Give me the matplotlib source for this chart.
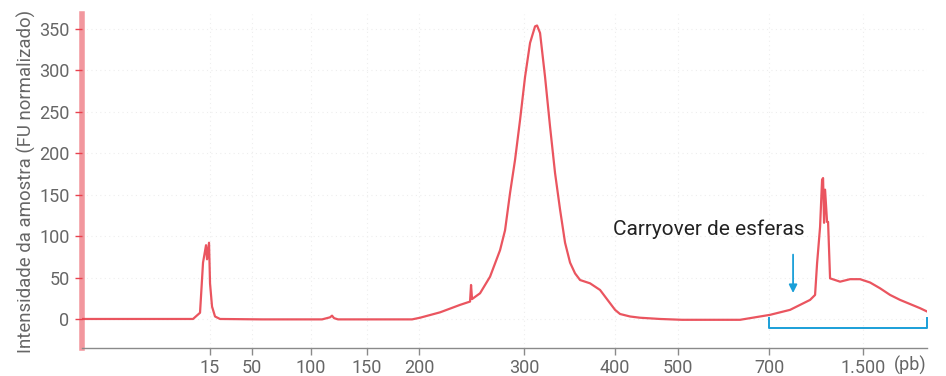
import matplotlib
matplotlib.use("Agg")
import matplotlib.pyplot as plt
import numpy as np

plt.rcParams['font.family'] = ['Roboto', 'DejaVu Sans']

# migration position (arbitrary units) and normalised intensity
pos = [0, 111, 118, 121, 124, 125, 127, 128, 130, 133, 138, 180, 240, 248, 250,
       252, 256, 300, 330, 338, 358, 378, 388, 389, 390, 398, 408, 418, 423, 428,
       433, 438, 443, 448, 453, 455, 458, 463, 468, 473, 478, 483, 488, 493, 498,
       508, 518, 523, 528, 533, 538, 548, 558, 578, 600, 658, 668, 688, 698, 708,
       718, 728, 733, 735, 738, 740, 741, 742, 743, 745, 746, 748, 758, 768, 778,
       788, 798, 808, 818, 828, 838, 845]
signal = [0, 0, 7.5, 68, 89, 72, 92, 43, 15, 3, 0, -0.5, -0.5, 2, 4,
          1, -0.5, -0.5, -0.5, 1.5, 8, 17, 21, 41, 24, 31, 51, 83, 107, 152,
          192, 240, 292, 333, 353, 354, 345, 292, 232, 176, 132, 92, 68, 55, 47,
          43, 35, 27, 19, 11, 6, 3, 1.5, 0, -1, -1, 1, 5, 8, 11,
          17, 23, 29, 67, 111, 168, 170, 116, 156, 117, 117, 49, 45, 48, 48,
          44, 37, 29, 23, 18, 13, 9]

# size ladder: position of each marker and its label
ladder_pos = [128, 170, 229, 285, 337, 442, 533, 596, 687, 781]
ladder_labels = ['15', '50', '100', '150', '200', '300', '400', '500', '700', '1.500']
y_ticks = [0, 50, 100, 150, 200, 250, 300, 350]

# carryover annotation
label_x, label_y = 627, 108
arrow_x = 711
arrow_from, arrow_to = 81, 28
bracket_x = (687, 845)
bracket_y, bracket_top = -11, 1

red = '#e8424e'
blue = '#1a9fd8'
grey = '#666666'

fig = plt.figure(figsize=(9.46, 3.76), dpi=100)
ax = fig.add_axes([0.0867, 0.0745, 0.8933, 0.8885])

ax.plot(pos, signal, color=red, lw=1.6, alpha=0.9, solid_joinstyle='round')

ax.set_xlim(0, 845)
ax.set_ylim(-35, 368)
ax.set_xticks(ladder_pos)
ax.set_xticklabels(ladder_labels)
ax.set_yticks(y_ticks)
ax.grid(True, color='#eeeeee', lw=0.8, ls=(0, (1, 3)))
ax.set_axisbelow(True)

for s in ['top', 'right']:
    ax.spines[s].set_visible(False)
ax.spines['left'].set_color(red)
ax.spines['left'].set_alpha(0.55)
ax.spines['left'].set_linewidth(4)
ax.spines['bottom'].set_color('#8a8a8a')
ax.spines['bottom'].set_linewidth(1)

ax.tick_params(axis='y', colors=red, length=5, width=1, labelsize=13, labelcolor=grey, pad=4)
ax.tick_params(axis='x', colors='#8a8a8a', length=5, width=1, labelsize=13, labelcolor=grey, pad=3)

ax.set_ylabel('Intensidade da amostra (FU normalizado)', fontsize=13.4, color=grey, labelpad=2)
ax.annotate('(pb)', xy=(0.98, 0), xycoords='axes fraction', xytext=(0, -8),
            textcoords='offset pixels', ha='center', va='top', fontsize=13, color=grey)

ax.text(label_x, label_y, 'Carryover de esferas', ha='center', va='center',
        fontsize=15, color='#222222')
ax.annotate('', xy=(arrow_x, arrow_to), xytext=(arrow_x, arrow_from),
            arrowprops=dict(arrowstyle='-|>', color=blue, lw=1.3, mutation_scale=12))
ax.plot([bracket_x[0], bracket_x[0], bracket_x[1], bracket_x[1]],
        [bracket_top, bracket_y, bracket_y, bracket_top], color=blue, lw=1.4, clip_on=False)

fig.savefig('out.png', dpi=100)
